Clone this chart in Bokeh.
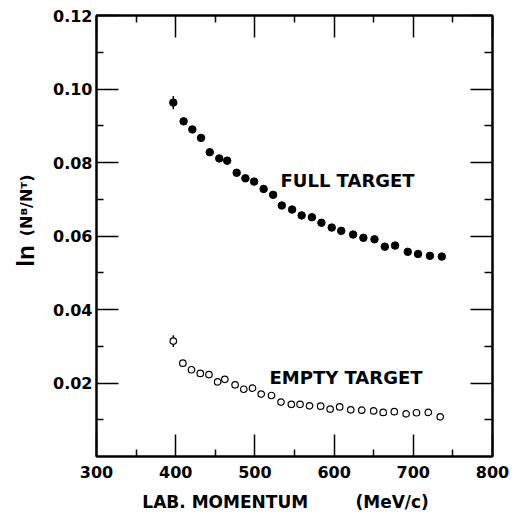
import math
from bokeh.plotting import figure
from bokeh.models import (LinearAxis, FixedTicker, PrintfTickFormatter, Label,
                          CustomJSTickFormatter)
from bokeh.embed import file_html
from bokeh.resources import INLINE

# ---- data ----
full_x = [397, 410, 421, 432, 443, 455, 465, 477, 488, 499, 511, 523, 534, 547,
          559, 572, 584, 597, 609, 624, 637, 651, 664, 677, 693, 706, 721, 736]
full_y = [0.0963, 0.0912, 0.0890, 0.0867, 0.0828, 0.0811, 0.0805, 0.0772, 0.0757,
          0.0748, 0.0728, 0.0712, 0.0683, 0.0672, 0.0656, 0.0651, 0.0636, 0.0623,
          0.0614, 0.0604, 0.0595, 0.0591, 0.0571, 0.0574, 0.0557, 0.0551, 0.0546,
          0.0544]
empty_x = [397, 409, 420, 431, 442, 453, 462, 475, 486, 497, 508, 521, 533, 546,
           557, 569, 583, 595, 607, 621, 635, 650, 662, 676, 691, 704, 719, 734]
empty_y = [0.0314, 0.0254, 0.0236, 0.0226, 0.0223, 0.0203, 0.0210, 0.0195, 0.0183,
           0.0186, 0.0170, 0.0166, 0.0148, 0.0142, 0.0142, 0.0138, 0.0137, 0.0129,
           0.0135, 0.0127, 0.0126, 0.0124, 0.0120, 0.0122, 0.0116, 0.0119, 0.0120,
           0.0108]
# error bars (only the first point of each series shows one)
full_err = [0.0018]
empty_err = [0.0016]

x_major = [300, 400, 500, 600, 700, 800]
x_minor = [350, 450, 550, 650, 750]
y_major = [0.02, 0.04, 0.06, 0.08, 0.10, 0.12]
y_minor = [0.01, 0.03, 0.05, 0.07, 0.09, 0.11]

FONT = "DejaVu Sans"
NB = "\u00a0"

p = figure(width=515, height=515, x_range=(300, 800), y_range=(0, 0.12),
           output_backend="svg", toolbar_location=None,
           min_border_left=96, min_border_right=23, min_border_top=15,
           min_border_bottom=59)
p.grid.visible = False
p.outline_line_color = "black"
p.outline_line_width = 2
p.background_fill_color = "white"
p.border_fill_color = "white"


def style_axis(ax, labels=True, major_in=22, minor_in=7):
    ax.axis_line_width = 2
    ax.axis_line_color = "black"
    ax.major_tick_in = major_in
    ax.major_tick_out = 0
    ax.minor_tick_in = minor_in
    ax.minor_tick_out = 0
    ax.major_tick_line_width = 1.5
    ax.minor_tick_line_width = 1.5
    ax.major_tick_line_color = "black"
    ax.minor_tick_line_color = "black"
    if labels:
        ax.major_label_text_font = FONT
        ax.major_label_text_font_style = "bold"
        ax.major_label_text_font_size = "16px"
        ax.major_label_text_color = "black"
    else:
        ax.formatter = CustomJSTickFormatter(code="return ''")
        ax.major_label_standoff = 0


xb = p.xaxis[0]
xb.ticker = FixedTicker(ticks=x_major, minor_ticks=x_minor)
xb.major_label_standoff = 9
style_axis(xb)
xb.axis_label = "LAB. MOMENTUM" + NB * 8 + "(MeV/c)" + NB * 3
xb.axis_label_text_font = FONT
xb.axis_label_text_font_style = "bold"
xb.axis_label_text_font_size = "17px"
xb.axis_label_text_color = "black"
xb.axis_label_standoff = 11

yl = p.yaxis[0]
yl.ticker = FixedTicker(ticks=y_major, minor_ticks=y_minor)
yl.formatter = PrintfTickFormatter(format="%.2f")
yl.major_label_standoff = 4
style_axis(yl)
# smaller part of the y title: (N^B/N^T)
yl.axis_label = NB * 11 + "(N\u1d2e/N\u1d40)"
yl.axis_label_text_font = FONT
yl.axis_label_text_font_style = "bold"
yl.axis_label_text_font_size = "16px"
yl.axis_label_text_color = "black"
yl.axis_label_standoff = 14

# large "ln" of the y title, on an extra bare left axis pulled inward
yl2 = LinearAxis(ticker=FixedTicker(ticks=[]))
yl2.formatter = CustomJSTickFormatter(code="return ''")
yl2.axis_line_color = None
yl2.major_tick_line_color = None
yl2.minor_tick_line_color = None
yl2.major_label_standoff = 0
yl2.axis_label = "ln" + NB * 6
yl2.axis_label_text_font = "Liberation Sans"
yl2.axis_label_text_font_style = "bold"
yl2.axis_label_text_font_size = "24px"
yl2.axis_label_text_color = "black"
yl2.axis_label_standoff = -24
p.add_layout(yl2, "left")

xt = LinearAxis(ticker=FixedTicker(ticks=x_major, minor_ticks=x_minor))
style_axis(xt, labels=False)
p.add_layout(xt, "above")

yr = LinearAxis(ticker=FixedTicker(ticks=y_major, minor_ticks=y_minor))
style_axis(yr, labels=False, minor_in=8)
p.add_layout(yr, "right")

# error bars
p.segment(x0=full_x[:1], x1=full_x[:1],
          y0=[full_y[0] - full_err[0]], y1=[full_y[0] + full_err[0]],
          line_color="black", line_width=1.5)
p.segment(x0=empty_x[:1], x1=empty_x[:1],
          y0=[empty_y[0] - empty_err[0]], y1=[empty_y[0] + empty_err[0]],
          line_color="black", line_width=1.5)

# data points
p.scatter(full_x, full_y, marker="circle", size=7.5, fill_color="black",
          line_color="black")
p.scatter(empty_x, empty_y, marker="circle", size=6.5, fill_color="white",
          line_color="black", line_width=1.2)

# annotations inside plot
for txt, x, y in [("FULL TARGET", 617, 0.0751), ("EMPTY TARGET", 615, 0.0216)]:
    p.add_layout(Label(x=x, y=y, text=txt, text_font=FONT, text_font_style="bold",
                       text_font_size="18px", text_align="center",
                       text_baseline="alphabetic", text_color="black"))

open("out.html", "w").write(file_html(p, INLINE))
